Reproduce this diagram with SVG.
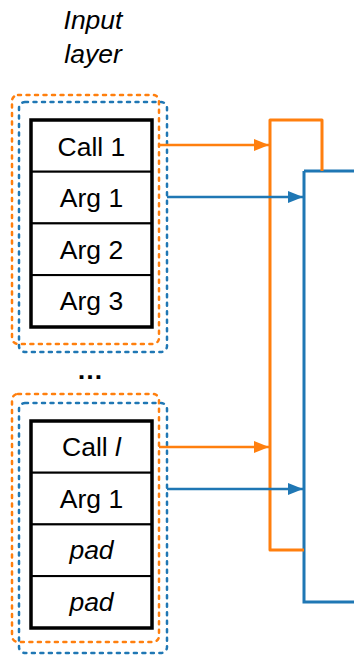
<svg xmlns="http://www.w3.org/2000/svg" width="354" height="655" viewBox="0 0 354 655">
<style>
text{font-family:"Liberation Sans",Arial,sans-serif;font-size:26.5px;fill:#000;text-anchor:middle;dominant-baseline:central}
.it{font-style:italic}
.cell{fill:#fff;stroke:#000;stroke-width:2}
.frame{fill:none;stroke:#000;stroke-width:3.5}
.od{fill:none;stroke:#ff7f0e;stroke-width:2.5;stroke-dasharray:3 5.5;stroke-linecap:round}
.bd{fill:none;stroke:#1f77b4;stroke-width:2.5;stroke-dasharray:3 5.5;stroke-linecap:round}
.oa{stroke:#ff7f0e;stroke-width:2.5;fill:none}
.ba{stroke:#1f77b4;stroke-width:2.5;fill:none}
</style>
<defs>
<marker id="ao" markerWidth="15" markerHeight="12" refX="15" refY="6" orient="auto" markerUnits="userSpaceOnUse"><path d="M0,0 L15,6 L0,12 Z" fill="#ff7f0e"/></marker>
<marker id="ab" markerWidth="15" markerHeight="12" refX="15" refY="6" orient="auto" markerUnits="userSpaceOnUse"><path d="M0,0 L15,6 L0,12 Z" fill="#1f77b4"/></marker>
</defs>
<g id="title">
<text class="it" x="93" y="20">Input</text>
<text class="it" x="93" y="54">layer</text>
</g>
<g id="group1">
<rect class="od" x="12" y="95" width="147" height="249" rx="6"/>
<rect class="bd" x="19" y="102" width="148" height="250" rx="6"/>
<rect class="cell" x="31" y="120" width="121" height="51.7"/>
<rect class="cell" x="31" y="171.7" width="121" height="51.7"/>
<rect class="cell" x="31" y="223.4" width="121" height="51.7"/>
<rect class="cell" x="31" y="275.1" width="121" height="51.9"/>
<rect class="frame" x="31" y="120" width="121" height="207"/>
<text x="91.5" y="147">Call 1</text>
<text x="91.5" y="198">Arg 1</text>
<text x="91.5" y="250">Arg 2</text>
<text x="91.5" y="301">Arg 3</text>
</g>
<g id="ellipsis"><text x="90" y="370" style="font-weight:bold">…</text></g>
<g id="group2">
<rect class="od" x="12" y="394" width="147" height="248" rx="6"/>
<rect class="bd" x="19" y="403" width="148" height="250" rx="6"/>
<rect class="cell" x="31" y="421" width="121" height="51.7"/>
<rect class="cell" x="31" y="472.7" width="121" height="51.7"/>
<rect class="cell" x="31" y="524.4" width="121" height="51.7"/>
<rect class="cell" x="31" y="576.1" width="121" height="51.9"/>
<rect class="frame" x="31" y="421" width="121" height="207"/>
<text x="91.5" y="447">Call <tspan class="it">l</tspan></text>
<text x="91.5" y="499">Arg 1</text>
<text class="it" x="91.5" y="550">pad</text>
<text class="it" x="91.5" y="602">pad</text>
</g>
<g id="next-layer">
<path d="M304,171 H360 M304,171 V602 H360" fill="none" stroke="#1f77b4" stroke-width="3"/>
</g>
<g id="connectors">
<path d="M322,171 V120 H270 V550 H304" fill="none" stroke="#ff7f0e" stroke-width="3" stroke-linejoin="round"/>
<line class="oa" x1="159" y1="145" x2="269" y2="145" marker-end="url(#ao)"/>
<line class="ba" x1="167" y1="197" x2="303" y2="197" marker-end="url(#ab)"/>
<line class="oa" x1="159" y1="447" x2="269" y2="447" marker-end="url(#ao)"/>
<line class="ba" x1="167" y1="489" x2="303" y2="489" marker-end="url(#ab)"/>
</g>
</svg>
